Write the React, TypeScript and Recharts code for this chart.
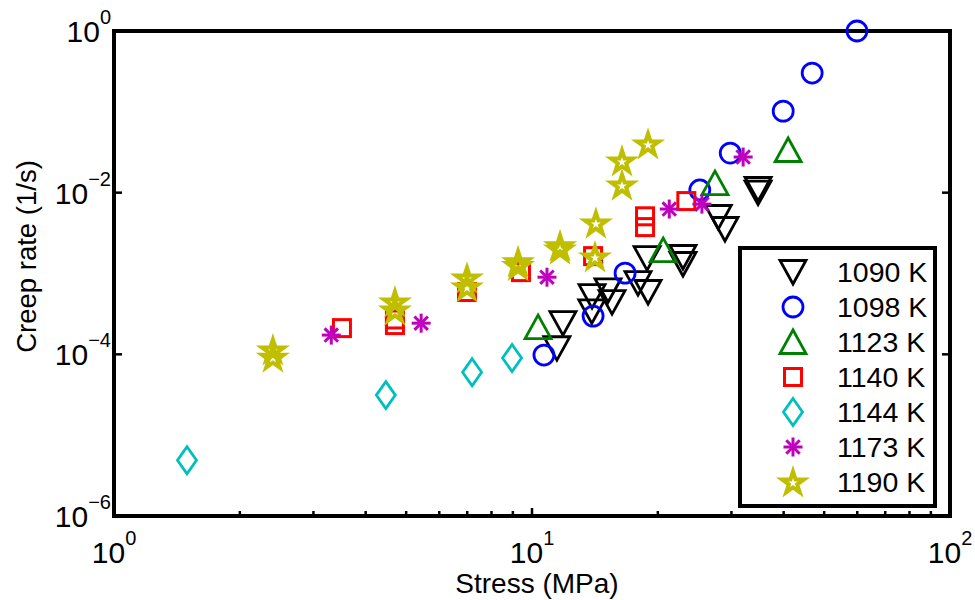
import React from 'react';
import { ScatterChart, Scatter, XAxis, YAxis, Legend } from 'recharts';

// Creep rate vs. applied stress, one series per test temperature.
const stress1090 = [11.47, 11.86, 13.92, 13.9, 15.2, 15.54, 17.93, 18.95, 18.85, 22.97, 22.97, 27.9, 28.95, 34.74, 34.74];
const rate1090 = [1.19e-4, 2.43e-4, 5.25e-4, 3.4e-4, 6.2e-4, 4.43e-4, 7.6e-4, 5.9e-4, 1.55e-3, 1.6e-3, 1.31e-3, 5.0e-3, 3.55e-3, 1.11e-2, 1.0e-2];

const stress1098 = [10.68, 14.0, 16.7, 25.2, 29.8, 39.9, 46.8, 59.9];
const rate1098 = [9.8e-5, 2.97e-4, 1.01e-3, 1.08e-2, 3.09e-2, 0.102, 0.302, 1.0];

const stress1123 = [10.34, 20.6, 27.4, 41.0];
const rate1123 = [2.17e-4, 1.95e-3, 1.31e-2, 3.37e-2];

const stress1140 = [3.51, 4.7, 4.7, 6.99, 9.41, 14.0, 18.64, 18.64, 23.4];
const rate1140 = [2.11e-4, 2.7e-4, 2.3e-4, 5.9e-4, 1.04e-3, 1.64e-3, 5.1e-3, 3.75e-3, 7.87e-3];

const stress1144 = [1.495, 4.47, 7.19, 8.96];
const rate1144 = [4.9e-6, 3.13e-5, 6.0e-5, 9.0e-5];

const stress1173 = [3.31, 5.43, 10.86, 21.3, 25.5, 32.0];
const rate1173 = [1.73e-4, 2.43e-4, 9.0e-4, 6.27e-3, 7.22e-3, 2.76e-2];

const stress1190 = [2.4, 2.4, 4.7, 4.7, 6.99, 6.99, 9.26, 9.26, 11.67, 11.67, 14.15, 14.22, 16.42, 16.42, 18.95];
const rate1190 = [1.13e-4, 9.2e-5, 4.43e-4, 3.52e-4, 8.77e-4, 6.79e-4, 1.4e-3, 1.25e-3, 2.2e-3, 2.0e-3, 1.6e-3, 4.2e-3, 1.24e-2, 2.46e-2, 3.99e-2];

const seriesNames = ['1090 K', '1098 K', '1123 K', '1140 K', '1144 K', '1173 K', '1190 K'];
const seriesColors = ['#000000', '#0000FF', '#008000', '#FF0000', '#00BFBF', '#BF00BF', '#BFBF00'];
const markerKinds = ['triangleDown', 'circle', 'triangleUp', 'square', 'diamond', 'asterisk', 'star'];

const stressTicks = [1, 2, 3, 4, 5, 6, 7, 8, 9, 10, 20, 30, 40, 50, 60, 70, 80, 90, 100];
const rateTicks = [1e-6, 1e-4, 1e-2, 1];

const FONT = '"Liberation Sans", Arial, Helvetica, sans-serif';

const toPoints = (xs: number[], ys: number[]) => xs.map((x, i) => ({ x, y: ys[i] }));
const seriesData = [
  toPoints(stress1090, rate1090),
  toPoints(stress1098, rate1098),
  toPoints(stress1123, rate1123),
  toPoints(stress1140, rate1140),
  toPoints(stress1144, rate1144),
  toPoints(stress1173, rate1173),
  toPoints(stress1190, rate1190),
];

function starPoints(cx: number, cy: number, R: number, r: number) {
  const pts: string[] = [];
  for (let i = 0; i < 10; i++) {
    const rad = i % 2 === 0 ? R : r;
    const a = -Math.PI / 2 + (i * Math.PI) / 5;
    pts.push(`${cx + rad * Math.cos(a)},${cy + rad * Math.sin(a)}`);
  }
  return pts.join(' ');
}

function Marker({ kind, cx, cy, color }: { kind: string; cx: number; cy: number; color: string }) {
  if (cx == null || cy == null || isNaN(cx) || isNaN(cy)) return null;
  const common = { fill: 'none', stroke: color, strokeWidth: 2.8 };
  switch (kind) {
    case 'triangleDown':
      return <polygon points={`${cx - 13},${cy - 11.5} ${cx + 13},${cy - 11.5} ${cx},${cy + 12}`} {...common} />;
    case 'triangleUp':
      return <polygon points={`${cx - 13},${cy + 11.5} ${cx + 13},${cy + 11.5} ${cx},${cy - 12}`} {...common} />;
    case 'circle':
      return <circle cx={cx} cy={cy} r={10} {...common} />;
    case 'square':
      return <rect x={cx - 8.5} y={cy - 8.5} width={17} height={17} {...common} strokeWidth={3} />;
    case 'diamond':
      return <polygon points={`${cx},${cy - 13.5} ${cx + 9.5},${cy} ${cx},${cy + 13.5} ${cx - 9.5},${cy}`} {...common} />;
    case 'asterisk': {
      const r = 9.5;
      const d = r * 0.707;
      return (
        <g stroke={color} strokeWidth={3}>
          <line x1={cx} y1={cy - r} x2={cx} y2={cy + r} />
          <line x1={cx - r} y1={cy} x2={cx + r} y2={cy} />
          <line x1={cx - d} y1={cy - d} x2={cx + d} y2={cy + d} />
          <line x1={cx - d} y1={cy + d} x2={cx + d} y2={cy - d} />
        </g>
      );
    }
    case 'star':
      return (
        <polygon
          points={starPoints(cx, cy + 1, 11.5, 4.4)}
          fill="none"
          stroke={color}
          strokeWidth={4}
          strokeLinejoin="miter"
        />
      );
    default:
      return null;
  }
}

const isDecade = (v: number) => Math.abs(Math.log10(v) - Math.round(Math.log10(v))) < 1e-9;
const expText = (v: number) => {
  const e = Math.round(Math.log10(v));
  return e < 0 ? '\u2212' + -e : String(e);
};

function PowerLabel({ x, y, v, anchor }: { x: number; y: number; v: number; anchor: 'middle' | 'end' }) {
  return (
    <text x={x} y={y} textAnchor={anchor} fontSize={30} fontFamily={FONT} fill="#000">
      10
      <tspan dy={-18} fontSize={20}>
        {expText(v)}
      </tspan>
    </text>
  );
}

const BottomTick = (props: any) => {
  const { x, y, payload } = props;
  const major = isDecade(payload.value);
  return (
    <g>
      <line x1={x} y1={y} x2={x} y2={y - (major ? 8 : 5)} stroke="#000" strokeWidth={2.5} />
      {major && <PowerLabel x={x} y={y + 47} v={payload.value} anchor="middle" />}
    </g>
  );
};

const TopTick = (props: any) => {
  const { x, y, payload } = props;
  const major = isDecade(payload.value);
  return <line x1={x} y1={y} x2={x} y2={y + (major ? 8 : 5)} stroke="#000" strokeWidth={2.5} />;
};

const LeftTick = (props: any) => {
  const { x, y, payload } = props;
  return (
    <g>
      <line x1={x} y1={y} x2={x + 8} y2={y} stroke="#000" strokeWidth={2.5} />
      <PowerLabel x={x - 3} y={y + 11} v={payload.value} anchor="end" />
    </g>
  );
};

const RightTick = (props: any) => {
  const { x, y } = props;
  return <line x1={x} y1={y} x2={x - 8} y2={y} stroke="#000" strokeWidth={2.5} />;
};

const frameLine = { stroke: '#000', strokeWidth: 4, strokeLinecap: 'square' as const };

const LegendBox = (props: any) => {
  const payload = (props.payload || []).filter((e: any) => seriesNames.indexOf(e.value) >= 0);
  return (
    <svg width={199} height={262} style={{ display: 'block' }}>
      <rect x={2} y={2} width={195} height={258} fill="#fff" stroke="#000" strokeWidth={4} />
      {payload.map((entry: any, i: number) => {
        const k = seriesNames.indexOf(entry.value);
        const cy = 26 + 35 * i;
        return (
          <g key={entry.value}>
            <Marker kind={markerKinds[k]} cx={55} cy={cy} color={seriesColors[k]} />
            <text x={99} y={cy + 10} fontSize={28.5} fontFamily={FONT} fill="#000">
              {seriesNames[k]}
            </text>
          </g>
        );
      })}
    </svg>
  );
};

export default function App() {
  return (
    <div style={{ position: 'absolute', left: 0, top: 0, background: '#fff' }}>
      <ScatterChart width={975} height={600} margin={{ top: 30, right: 24, bottom: 0, left: 0 }}>
        <XAxis
          xAxisId="b"
          dataKey="x"
          type="number"
          scale="log"
          domain={[1, 100]}
          ticks={stressTicks}
          interval={0}
          height={84}
          tickSize={0}
          tickMargin={0}
          tickLine={false}
          axisLine={frameLine}
          tick={<BottomTick />}
          label={{
            content: (p: any) => {
              const vb = p.viewBox || { x: 114, y: 516, width: 836, height: 84 };
              return (
                <text x={vb.x + vb.width / 2 + 5} y={vb.y + 77} textAnchor="middle" fontSize={28} fontFamily={FONT} fill="#000">
                  Stress (MPa)
                </text>
              );
            },
          }}
        />
        <XAxis
          xAxisId="t"
          orientation="top"
          type="number"
          scale="log"
          domain={[1, 100]}
          allowDataOverflow
          ticks={stressTicks}
          interval={0}
          height={1}
          tickSize={0}
          tickMargin={0}
          tickLine={false}
          axisLine={frameLine}
          tick={<TopTick />}
        />
        <YAxis
          yAxisId="l"
          dataKey="y"
          type="number"
          scale="log"
          domain={[1e-6, 1]}
          ticks={rateTicks}
          interval={0}
          width={114}
          tickSize={0}
          tickMargin={0}
          tickLine={false}
          axisLine={frameLine}
          tick={<LeftTick />}
          label={{
            content: (p: any) => {
              const vb = p.viewBox || { x: 0, y: 31, width: 114, height: 485 };
              const cy = vb.y + vb.height / 2 - 17;
              return (
                <text
                  transform={`translate(${vb.x + 26}, ${cy}) rotate(-90)`}
                  textAnchor="middle"
                  dominantBaseline="central"
                  fontSize={27.5}
                  fontFamily={FONT}
                  fill="#000"
                >
                  Creep rate (1/s)
                </text>
              );
            },
          }}
        />
        <YAxis
          yAxisId="r"
          orientation="right"
          type="number"
          scale="log"
          domain={[1e-6, 1]}
          allowDataOverflow
          ticks={rateTicks}
          interval={0}
          width={1}
          tickSize={0}
          tickMargin={0}
          tickLine={false}
          axisLine={frameLine}
          tick={<RightTick />}
        />
        {seriesData.map((data, i) => (
          <Scatter
            key={seriesNames[i]}
            name={seriesNames[i]}
            data={data}
            xAxisId="b"
            yAxisId="l"
            fill={seriesColors[i]}
            isAnimationActive={false}
            shape={(p: any) => <Marker kind={markerKinds[i]} cx={p.cx} cy={p.cy} color={seriesColors[i]} />}
          />
        ))}
        <Legend
          layout="vertical"
          align="center"
          verticalAlign="middle"
          wrapperStyle={{ left: 738, top: 246, width: 199, height: 262 }}
          content={<LegendBox />}
        />
      </ScatterChart>
    </div>
  );
}
